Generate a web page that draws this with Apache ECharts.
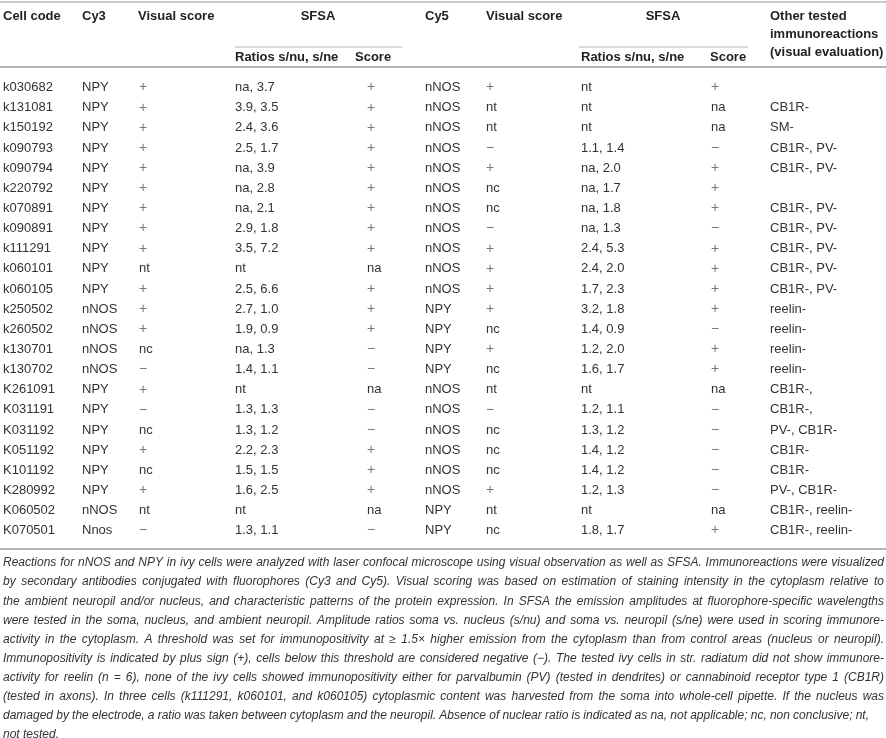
<!DOCTYPE html>
<html>
<head>
<meta charset="utf-8">
<script src="https://cdn.jsdelivr.net/npm/echarts@6/dist/echarts.min.js"></script>
<style>
html, body { margin: 0; padding: 0; background: #fff; }
#main { width: 886px; height: 738px; }
</style>
</head>
<body>
<div id="main"></div>
<script>
// table data, one array per column
var cellCodes = ['k030682','k131081','k150192','k090793','k090794','k220792','k070891','k090891','k111291','k060101','k060105',
    'k250502','k260502','k130701','k130702','K261091','K031191','K031192','K051192','K101192','K280992','K060502','K070501'];
var cy3Label = ['NPY','NPY','NPY','NPY','NPY','NPY','NPY','NPY','NPY','NPY','NPY',
    'nNOS','nNOS','nNOS','nNOS','NPY','NPY','NPY','NPY','NPY','NPY','nNOS','Nnos'];
var cy3Visual = ['+','+','+','+','+','+','+','+','+','nt','+',
    '+','+','nc','−','+','−','nc','+','nc','+','nt','−'];
var cy3Ratios = ['na, 3.7','3.9, 3.5','2.4, 3.6','2.5, 1.7','na, 3.9','na, 2.8','na, 2.1','2.9, 1.8','3.5, 7.2','nt','2.5, 6.6',
    '2.7, 1.0','1.9, 0.9','na, 1.3','1.4, 1.1','nt','1.3, 1.3','1.3, 1.2','2.2, 2.3','1.5, 1.5','1.6, 2.5','nt','1.3, 1.1'];
var cy3Score = ['+','+','+','+','+','+','+','+','+','na','+',
    '+','+','−','−','na','−','−','+','+','+','na','−'];
var cy5Label = ['nNOS','nNOS','nNOS','nNOS','nNOS','nNOS','nNOS','nNOS','nNOS','nNOS','nNOS',
    'NPY','NPY','NPY','NPY','nNOS','nNOS','nNOS','nNOS','nNOS','nNOS','NPY','NPY'];
var cy5Visual = ['+','nt','nt','−','+','nc','nc','−','+','+','+',
    '+','nc','+','nc','nt','−','nc','nc','nc','+','nt','nc'];
var cy5Ratios = ['nt','nt','nt','1.1, 1.4','na, 2.0','na, 1.7','na, 1.8','na, 1.3','2.4, 5.3','2.4, 2.0','1.7, 2.3',
    '3.2, 1.8','1.4, 0.9','1.2, 2.0','1.6, 1.7','nt','1.2, 1.1','1.3, 1.2','1.4, 1.2','1.4, 1.2','1.2, 1.3','nt','1.8, 1.7'];
var cy5Score = ['+','na','na','−','+','+','+','−','+','+','+',
    '+','−','+','+','na','−','−','−','−','−','na','+'];
var otherTested = ['','CB1R-','SM-','CB1R-, PV-','CB1R-, PV-','','CB1R-, PV-','CB1R-, PV-','CB1R-, PV-','CB1R-, PV-','CB1R-, PV-',
    'reelin-','reelin-','reelin-','reelin-','CB1R-,','CB1R-,','PV-, CB1R-','CB1R-','CB1R-','PV-, CB1R-','CB1R-, reelin-','CB1R-, reelin-'];

var captionLines = [
    'Reactions for nNOS and NPY in ivy cells were analyzed with laser confocal microscope using visual observation as well as SFSA. Immunoreactions were visualized',
    'by secondary antibodies conjugated with fluorophores (Cy3 and Cy5). Visual scoring was based on estimation of staining intensity in the cytoplasm relative to',
    'the ambient neuropil and/or nucleus, and characteristic patterns of the protein expression. In SFSA the emission amplitudes at fluorophore-specific wavelengths',
    'were tested in the soma, nucleus, and ambient neuropil. Amplitude ratios soma vs. nucleus (s/nu) and soma vs. neuropil (s/ne) were used in scoring immunore-',
    'activity in the cytoplasm. A threshold was set for immunopositivity at \u2265 1.5\u00d7 higher emission from the cytoplasm than from control areas (nucleus or neuropil).',
    'Immunopositivity is indicated by plus sign (+), cells below this threshold are considered negative (\u2212). The tested ivy cells in str. radiatum did not show immunore-',
    'activity for reelin (n = 6), none of the ivy cells showed immunopositivity either for parvalbumin (PV) (tested in dendrites) or cannabinoid receptor type 1 (CB1R)',
    '(tested in axons). In three cells (k111291, k060101, and k060105) cytoplasmic content was harvested from the soma into whole-cell pipette. If the nucleus was',
    'damaged by the electrode, a ratio was taken between cytoplasm and the neuropil. Absence of nuclear ratio is indicated as na, not applicable; nc, non conclusive; nt,',
    'not tested.'
];

var columns = [cellCodes, cy3Label, cy3Visual, cy3Ratios, cy3Score, cy5Label, cy5Visual, cy5Ratios, cy5Score, otherTested];
var colX = [3, 82, 139, 235, 367, 425, 486, 581, 711, 770];

var FONT = '"Liberation Sans", Arial, sans-serif';
var textColor = '#333';
var ruleColor = '#b4b4b4';

var myChart = echarts.init(document.getElementById('main'));

// header + rules
var graphics = [];
function hText(x, y, t, align) {
    graphics.push({
        type: 'text', x: x, y: y, silent: true,
        style: { text: t, fill: '#222', fontSize: 13, fontWeight: 'bold', fontFamily: FONT,
            align: align || 'left', verticalAlign: 'middle' }
    });
}
function rule(x1, x2, y, w) {
    graphics.push({
        type: 'line', silent: true,
        shape: { x1: x1, y1: y, x2: x2, y2: y },
        style: { stroke: ruleColor, lineWidth: w }
    });
}
rule(0, 886, 2, 1.5);
rule(0, 886, 67, 2);
rule(0, 886, 549, 2);
rule(235, 402, 47, 1);
rule(579, 748, 47, 1);

hText(3, 16, 'Cell code');
hText(82, 16, 'Cy3');
hText(138, 16, 'Visual score');
hText(318, 16, 'SFSA', 'center');
hText(425, 16, 'Cy5');
hText(486, 16, 'Visual score');
hText(663, 16, 'SFSA', 'center');
hText(770, 16, 'Other tested');
hText(770, 34, 'immunoreactions');
hText(770, 52, '(visual evaluation)');
hText(235, 57, 'Ratios s/nu, s/ne');
hText(355, 57, 'Score');
hText(581, 57, 'Ratios s/nu, s/ne');
hText(710, 57, 'Score');

// caption, justified word by word
var capFont = 'italic 12px ' + FONT;
var ctx = document.createElement('canvas').getContext('2d');
ctx.font = capFont;
captionLines.forEach(function (line, k) {
    var y = 563 + k * 19.1;
    var words = line.split(' ');
    var widths = words.map(function (w) { return ctx.measureText(w).width; });
    var total = widths.reduce(function (a, b) { return a + b; }, 0);
    var target = k < 8 ? 881 : (k === 8 ? 866 : 0);
    var gap = ctx.measureText(' ').width;
    if (target && words.length > 1) gap = (target - total) / (words.length - 1);
    var x = 3;
    words.forEach(function (w, i) {
        graphics.push({
            type: 'text', x: x, y: y, silent: true,
            style: { text: w, fill: textColor, fontSize: 12, fontStyle: 'italic', fontFamily: FONT,
                align: 'left', verticalAlign: 'middle' }
        });
        x += widths[i] + gap;
    });
});

option = {
    animation: false,
    grid: { left: 0, right: 0, top: 77.5, height: 463.2 },
    xAxis: { type: 'value', min: 0, max: 886, show: false },
    yAxis: { type: 'category', data: cellCodes, inverse: true, show: false },
    graphic: graphics,
    series: [{
        type: 'custom',
        silent: true,
        data: cellCodes.map(function (c) { return [0, c]; }),
        renderItem: function (params, api) {
            var row = api.value(1);
            var children = columns.map(function (col, j) {
                var p = api.coord([colX[j], row]);
                var t = col[row];
                var sign = (t === '+' || t === '−');
                return {
                    type: 'text', x: p[0], y: p[1],
                    style: { text: t, fill: sign ? '#777' : textColor, fontSize: sign ? 14 : 13, fontFamily: FONT,
                        align: 'left', verticalAlign: 'middle' }
                };
            });
            return { type: 'group', children: children };
        }
    }]
};
myChart.setOption(option);
</script>
</body>
</html>
